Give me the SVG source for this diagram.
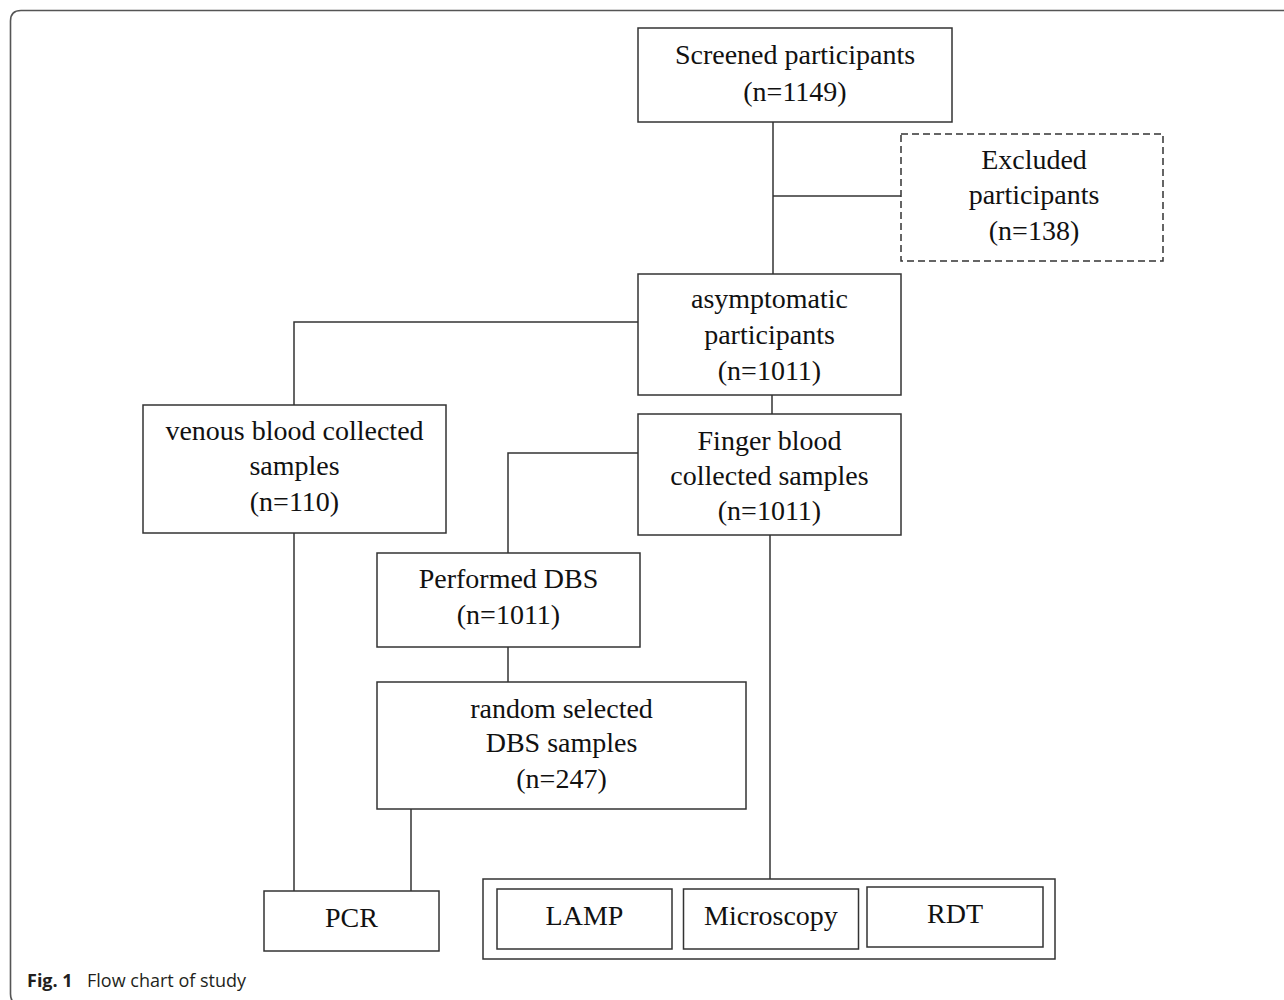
<svg xmlns="http://www.w3.org/2000/svg" width="1284" height="1000" viewBox="0 0 1284 1000">
<style>
.box{fill:#fff;stroke:#333;stroke-width:1.5}
.dash{fill:#fff;stroke:#333;stroke-width:1.5;stroke-dasharray:7 4}
.ln{fill:none;stroke:#333;stroke-width:1.5}
.t{font-family:"Liberation Serif","Times New Roman",serif;font-size:28px;fill:#111;text-anchor:middle}
.frame{fill:none;stroke:#555;stroke-width:1.6}
.cap{font-family:"Open Sans","Noto Sans",sans-serif;font-size:18px;fill:#231f20}
</style>
<rect width="1284" height="1000" fill="#fff"/>
<path class="frame" d="M1290 10.5 H21 Q10.5 10.5 10.5 21 V994 Q10.5 1004.5 21 1004.5"/>
<g id="connectors">
<path class="ln" d="M773 122 V274"/>
<path class="ln" d="M773 196 H901"/>
<path class="ln" d="M638 322 H294 V405"/>
<path class="ln" d="M772 395 V414"/>
<path class="ln" d="M638 453 H508 V553"/>
<path class="ln" d="M508 647 V682"/>
<path class="ln" d="M294 533 V891"/>
<path class="ln" d="M411 809 V891"/>
<path class="ln" d="M770 535 V879"/>
</g>
<g id="screened">
<rect class="box" x="638" y="28" width="314" height="94"/>
<text class="t" x="795" y="64">Screened participants</text>
<text class="t" x="795" y="101">(n=1149)</text>
</g>
<g id="excluded">
<rect class="dash" x="901" y="134" width="262" height="127"/>
<text class="t" x="1034" y="169">Excluded</text>
<text class="t" x="1034" y="204">participants</text>
<text class="t" x="1034" y="240">(n=138)</text>
</g>
<g id="asymptomatic">
<rect class="box" x="638" y="274" width="263" height="121"/>
<text class="t" x="769.5" y="308">asymptomatic</text>
<text class="t" x="769.5" y="344">participants</text>
<text class="t" x="769.5" y="380">(n=1011)</text>
</g>
<g id="venous">
<rect class="box" x="143" y="405" width="303" height="128"/>
<text class="t" x="294.5" y="440">venous blood collected</text>
<text class="t" x="294.5" y="475">samples</text>
<text class="t" x="294.5" y="511">(n=110)</text>
</g>
<g id="finger">
<rect class="box" x="638" y="414" width="263" height="121"/>
<text class="t" x="769.5" y="450">Finger blood</text>
<text class="t" x="769.5" y="485">collected samples</text>
<text class="t" x="769.5" y="520">(n=1011)</text>
</g>
<g id="performed">
<rect class="box" x="377" y="553" width="263" height="94"/>
<text class="t" x="508.5" y="588">Performed DBS</text>
<text class="t" x="508.5" y="624">(n=1011)</text>
</g>
<g id="random">
<rect class="box" x="377" y="682" width="369" height="127"/>
<text class="t" x="561.5" y="718">random selected</text>
<text class="t" x="561.5" y="752">DBS samples</text>
<text class="t" x="561.5" y="788">(n=247)</text>
</g>
<g id="pcr">
<rect class="box" x="264" y="891" width="175" height="60"/>
<text class="t" x="351.5" y="927">PCR</text>
</g>
<g id="tests">
<rect class="box" x="483" y="879" width="572" height="80"/>
<g id="lamp">
<rect class="box" x="497" y="889" width="175" height="60"/>
<text class="t" x="584.5" y="925">LAMP</text>
</g>
<g id="microscopy">
<rect class="box" x="683.5" y="889" width="175" height="60"/>
<text class="t" x="771" y="925">Microscopy</text>
</g>
<g id="rdt">
<rect class="box" x="867" y="887" width="176" height="60"/>
<text class="t" x="955" y="923">RDT</text>
</g>
</g>
<g id="caption">
<text class="cap" x="27" y="987" font-weight="bold" font-size="18.5">Fig. 1</text>
<text class="cap" x="87" y="987">Flow chart of study</text>
</g>
</svg>
